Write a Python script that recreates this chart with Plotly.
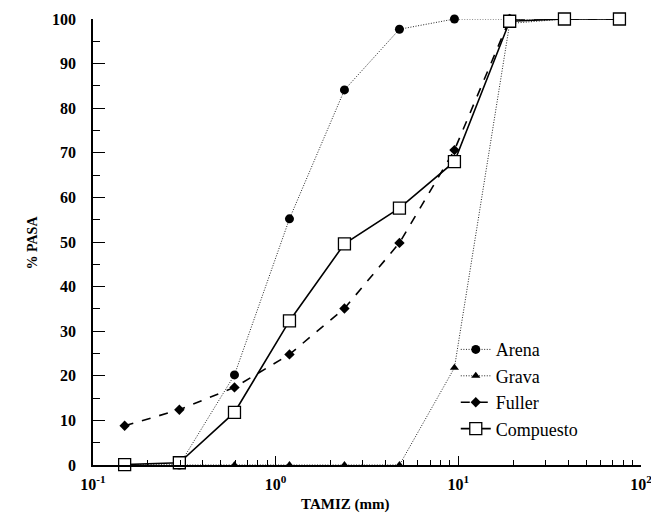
import plotly.graph_objects as go

tamiz = [0.149, 0.297, 0.595, 1.19, 2.38, 4.76, 9.52, 19.1, 38.1, 76.2]
arena = [0, 0, 20.2, 55.2, 84.1, 97.7, 100, 100, 100, 100]
grava = [0, 0, 0, 0, 0, 0, 21.8, 99, 100, 100]
fuller = [8.8, 12.4, 17.4, 24.8, 35.1, 49.8, 70.6, 100, 100, 100]
compuesto = [0.1, 0.5, 11.8, 32.3, 49.6, 57.6, 68.0, 99.5, 100, 100]

xtickvals = [0.1, 1, 10, 100]
xticktext = ["10<sup>-1</sup>", "10<sup>0</sup>", "10<sup>1</sup>", "10<sup>2</sup>"]
ytickvals = [0, 10, 20, 30, 40, 50, 60, 70, 80, 90, 100]

serif = "'Times New Roman', 'Liberation Serif', 'DejaVu Serif', serif"

# page offset (body margin) compensation
OFF = 8
W, H = 659 - OFF, 529 - OFF
L, R, T, B = 93 - OFF, 18, 19 - OFF, 64

fig = go.Figure()
fig.add_trace(go.Scatter(x=tamiz, y=arena, name="Arena", mode="lines+markers",
                         line=dict(color="#222", width=1, dash="1px,1.6px"),
                         marker=dict(symbol="circle", size=9, color="black"),
                         cliponaxis=False))
fig.add_trace(go.Scatter(x=tamiz, y=grava, name="Grava", mode="lines+markers",
                         line=dict(color="#222", width=1, dash="1px,1.6px"),
                         marker=dict(symbol="triangle-up", size=8, color="black"),
                         cliponaxis=False))
fig.add_trace(go.Scatter(x=tamiz, y=fuller, name="Fuller", mode="lines+markers",
                         line=dict(color="black", width=1.6, dash="dash"),
                         marker=dict(symbol="diamond", size=8, color="black"),
                         cliponaxis=False))
fig.add_trace(go.Scatter(x=tamiz, y=compuesto, name="Compuesto", mode="lines+markers",
                         line=dict(color="black", width=1.6),
                         marker=dict(symbol="square", size=12, color="white",
                                     line=dict(color="black", width=1.3)),
                         cliponaxis=False))

minor_x = [m * 10 ** e for e in (-1, 0, 1) for m in range(2, 10)]

pw, ph = W - L - R, H - T - B


def px2paper(xp, yp):
    # page pixel coords -> paper coords
    return (xp - OFF - L) / pw, (H - B - (yp - OFF)) / ph


ax_x, ax_y = px2paper(22, 243)
tx_x, tx_y = px2paper(345, 515)

fig.update_layout(
    width=W, height=H,
    margin=dict(l=L, r=R, t=T, b=B, autoexpand=False),
    plot_bgcolor="white", paper_bgcolor="white",
    font=dict(family=serif, color="black"),
    showlegend=True,
    legend=dict(x=0.662, y=0.300, xanchor="left", yanchor="top",
                bgcolor="rgba(0,0,0,0)", font=dict(family=serif, size=18),
                itemwidth=30, tracegroupgap=0),
    xaxis=dict(type="log", range=[-1, 2], showgrid=False, zeroline=False,
               showline=True, linecolor="black", linewidth=1.5,
               ticks="inside", ticklen=9, tickwidth=1.3, tickcolor="black",
               tickmode="array", tickvals=xtickvals, ticktext=xticktext,
               tickfont=dict(family=serif, size=16, weight="bold"),
               minor=dict(tickmode="array", tickvals=minor_x, ticks="inside",
                          ticklen=5, tickwidth=1, tickcolor="black", showgrid=False),
               ticklabelstandoff=4),
    yaxis=dict(range=[0, 100], showgrid=False, zeroline=False,
               showline=True, linecolor="black", linewidth=1.5,
               ticks="inside", ticklen=12, tickwidth=1.3, tickcolor="black",
               tickmode="array", tickvals=ytickvals,
               tickfont=dict(family=serif, size=16, weight="bold"),
               minor=dict(dtick=5, ticks="inside", ticklen=7, tickwidth=1,
                          tickcolor="black", showgrid=False),
               ticklabelstandoff=12),
    annotations=[
        dict(text="<b>% PASA</b>", x=ax_x, y=ax_y, xref="paper", yref="paper",
             showarrow=False, textangle=-90, font=dict(family=serif, size=14)),
        dict(text="<b>TAMIZ (mm)</b>", x=tx_x, y=tx_y, xref="paper", yref="paper",
             showarrow=False, font=dict(family=serif, size=15)),
    ],
)

fig.write_html("out.html")
